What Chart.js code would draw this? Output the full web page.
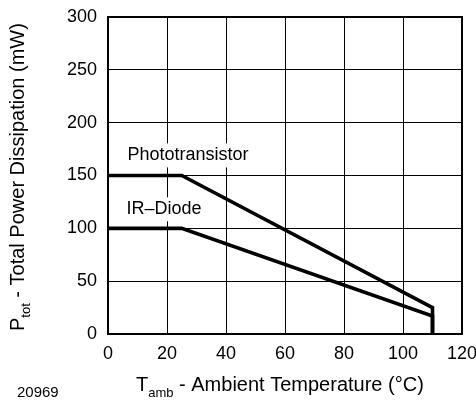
<!DOCTYPE html>
<html>
<head>
<meta charset="utf-8">
<script src="https://cdn.jsdelivr.net/npm/chart.js@4/dist/chart.umd.min.js"></script>
<style>
html,body{margin:0;padding:0;background:#fff;}
#wrap{width:476px;height:402px;position:relative;}
</style>
</head>
<body>
<div id="wrap"><canvas id="c" width="476" height="402"></canvas></div>
<script>
// Data
const phototransistorT = [0, 25, 110, 110];
const phototransistorP = [150, 150, 25, 0];
const irDiodeT = [0, 25, 110, 110];
const irDiodeP = [100, 100, 17, 0];
const seriesLabels = ['Phototransistor', 'IR–Diode'];
const labelAnchors = [[6.6, 169], [6.3, 118]]; // [T, P] where each label is written
const xTicks = [0, 20, 40, 60, 80, 100, 120];
const yTicks = [0, 50, 100, 150, 200, 250, 300];
const figureId = '20969';

const FONT = '"Liberation Sans", Arial, Helvetica, sans-serif';

function pts(xs, ys) { return xs.map((x, i) => ({x: x, y: ys[i]})); }

const annotations = {
  id: 'annotations',
  afterDraw(chart) {
    const ctx = chart.ctx;
    const xs = chart.scales.x, ys = chart.scales.y;
    const a = chart.chartArea;
    ctx.save();
    // frame
    ctx.strokeStyle = '#000';
    ctx.lineWidth = 2;
    ctx.strokeRect(a.left, a.top, a.right - a.left, a.bottom - a.top);
    // series labels with white background
    ctx.font = '18px ' + FONT;
    ctx.textBaseline = 'middle';
    ctx.textAlign = 'left';
    seriesLabels.forEach((t, i) => {
      const px = xs.getPixelForValue(labelAnchors[i][0]);
      const py = ys.getPixelForValue(labelAnchors[i][1]);
      const w = ctx.measureText(t).width;
      ctx.fillStyle = '#fff';
      ctx.fillRect(px - 3, py - 12, w + 6, 24);
      ctx.fillStyle = '#000';
      ctx.fillText(t, px, py);
    });
    // x axis title with subscript
    ctx.fillStyle = '#000';
    ctx.textBaseline = 'alphabetic';
    let x = 136, y = 391;
    ctx.font = '20px ' + FONT;
    ctx.fillText('T', x, y); x += ctx.measureText('T').width;
    ctx.font = '13px ' + FONT;
    ctx.fillText('amb', x, y + 6); x += ctx.measureText('amb').width;
    ctx.font = '20px ' + FONT;
    ctx.fillText(' - Ambient Temperature (°C)', x, y);
    // y axis title rotated with subscript
    ctx.save();
    ctx.translate(24, 331);
    ctx.rotate(-Math.PI / 2);
    x = 0; y = 0;
    ctx.font = '20px ' + FONT;
    ctx.fillText('P', x, y); x += ctx.measureText('P').width;
    ctx.font = '13px ' + FONT;
    ctx.fillText('tot', x, y + 6); x += ctx.measureText('tot').width;
    ctx.font = '20px ' + FONT;
    ctx.fillText(' - Total Power Dissipation (mW)', x, y);
    ctx.restore();
    // figure id
    ctx.font = '15px ' + FONT;
    ctx.fillText(figureId, 17, 397);
    ctx.restore();
  }
};

new Chart(document.getElementById('c'), {
  type: 'line',
  data: {
    datasets: [
      {label: seriesLabels[0], data: pts(phototransistorT, phototransistorP), borderColor: '#000', borderWidth: 3.6, pointRadius: 0, tension: 0, fill: false},
      {label: seriesLabels[1], data: pts(irDiodeT, irDiodeP), borderColor: '#000', borderWidth: 3.6, pointRadius: 0, tension: 0, fill: false}
    ]
  },
  options: {
    responsive: false,
    animation: false,
    devicePixelRatio: 1,
    layout: {padding: {left: 0, top: 17, right: 14, bottom: 0}},
    plugins: {legend: {display: false}, tooltip: {enabled: false}, title: {display: false}},
    scales: {
      x: {
        type: 'linear', min: 0, max: 120,
        afterFit(s) { s.height = 68; s.paddingLeft = 0; s.paddingRight = 0; },
        afterBuildTicks(s) { s.ticks = xTicks.map(v => ({value: v})); },
        grid: {color: '#000', lineWidth: 1, drawTicks: false},
        border: {display: true, color: '#000', width: 2},
        ticks: {color: '#000', padding: 9, maxRotation: 0, font: {family: FONT, size: 18}}
      },
      y: {
        type: 'linear', min: 0, max: 300,
        afterFit(s) { s.width = 108; s.paddingTop = 0; s.paddingBottom = 0; },
        afterBuildTicks(s) { s.ticks = yTicks.map(v => ({value: v})); },
        grid: {color: '#000', lineWidth: 1, drawTicks: false},
        border: {display: true, color: '#000', width: 2},
        ticks: {color: '#000', padding: 11, font: {family: FONT, size: 18}}
      }
    }
  },
  plugins: [annotations]
});
</script>
</body>
</html>
